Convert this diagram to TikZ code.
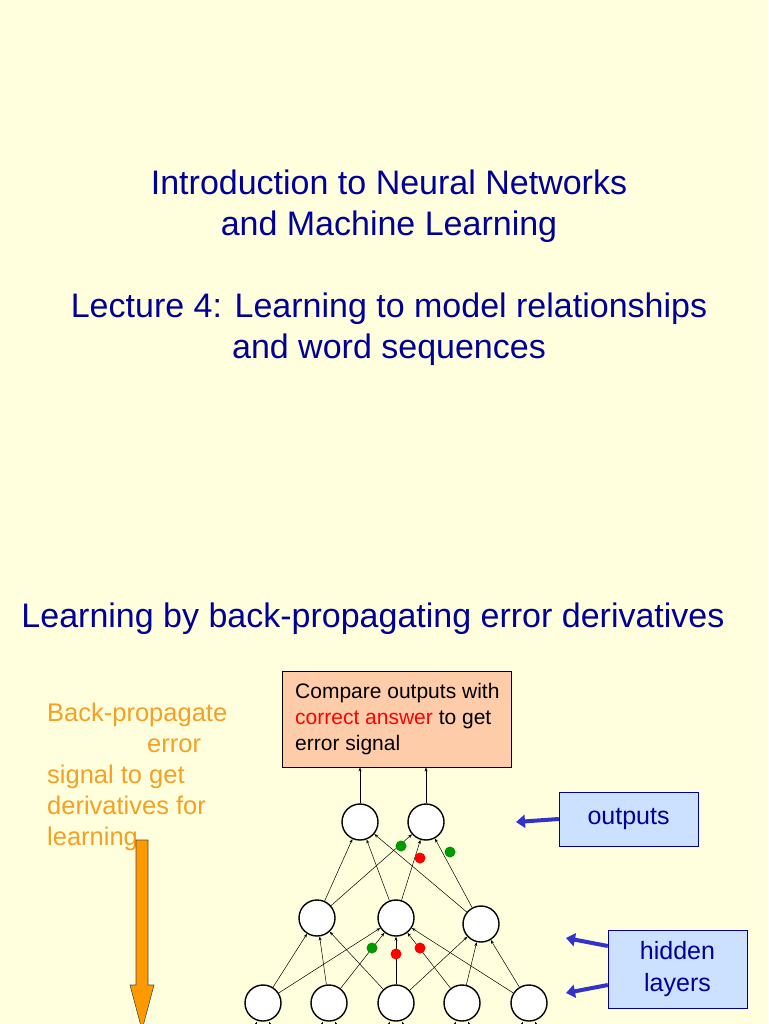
\documentclass[tikz,border=0pt]{standalone}
\usepackage{fontspec}
\setmainfont{Liberation Sans}
\usetikzlibrary{arrows.meta}
\definecolor{bg}{HTML}{FFFFDD}
\definecolor{navy}{HTML}{000099}
\definecolor{orng}{HTML}{F5A023}
\definecolor{salmon}{HTML}{FFCCAA}
\definecolor{lblue}{HTML}{CCE0FF}
\definecolor{bluearr}{HTML}{3333CC}
\definecolor{gdot}{HTML}{009900}
\definecolor{oarrow}{HTML}{FF9900}
\tikzset{
 neuron/.style={circle,draw,line width=1.4pt,fill=white,minimum size=36pt,inner sep=0pt},
 conn/.style={-{Stealth[length=4pt,width=3pt]},line width=0.5pt},
 dot/.style={circle,fill=#1,minimum size=11pt,inner sep=0pt},
 lab/.style={draw=navy,fill=lblue,text=navy,font=\fontsize{25}{32}\selectfont,align=center,inner sep=0pt},
 barrow/.style={-{Triangle[length=9pt,width=13pt]},line width=4pt,bluearr}
}
\begin{document}
\begin{tikzpicture}[x=1pt,y=-1pt]
\fill[bg] (0,0) rectangle (768,1024);
\useasboundingbox (0,0) rectangle (768,1024);
\node[text=navy,font=\fontsize{34}{41}\selectfont,align=center] (title) at (389,268)
 {Introduction to Neural Networks\\and Machine Learning\\[41pt]Lecture 4: Learning to model relationships\\and word sequences};
\node[text=navy,font=\fontsize{34}{40}\selectfont] (head) at (373,619) {Learning by back-propagating error derivatives};
\node[draw,fill=salmon,minimum width=229pt,minimum height=96pt,anchor=north west,inner sep=0pt] (cmp) at (282,671) {};
\node[anchor=north west,font=\fontsize{21}{26}\selectfont,align=left,inner sep=0pt] (cmpt) at (295,683)
 {Compare outputs with\\\textcolor{red}{correct answer} to get\\error signal};
\node[text=orng,font=\fontsize{25.5}{31}\selectfont,align=left,anchor=north west,inner sep=0pt] (bp) at (47,703)
 {Back-propagate\\\hspace*{100pt}error\\signal to get\\derivatives for\\learning};
% orange arrow
\filldraw[fill=oarrow,draw=black!70,line width=0.6pt] (136,840) -- (148,840) -- (148,985) -- (154,985) -- (142,1030) -- (130,985) -- (136,985) -- cycle;
% neurons
\node[neuron] (o1) at (360,822) {};
\node[neuron] (o2) at (426,822) {};
\node[neuron] (h1) at (317,918) {};
\node[neuron] (h2) at (396,918) {};
\node[neuron] (h3) at (481,924) {};
\node[neuron] (i1) at (263,1003) {};
\node[neuron] (i2) at (329,1003) {};
\node[neuron] (i3) at (396,1003) {};
\node[neuron] (i4) at (462,1003) {};
\node[neuron] (i5) at (529,1003) {};
\foreach \h in {h1,h2,h3}{\foreach \o in {o1,o2}{\draw[conn] (\h) -- (\o);}}
\foreach \i/\h in {i1/h1,i1/h2,i2/h1,i2/h2,i3/h1,i3/h2,i3/h3,i4/h2,i4/h3,i5/h2,i5/h3}{\draw[conn] (\i) -- (\h);}
\draw[conn] (o1) -- (o1.north |- cmp.south);
\draw[conn] (o2) -- (o2.north |- cmp.south);
\foreach \n in {i1,i2,i3,i4,i5}{
 \coordinate (\n bl) at ([xshift=-12pt,yshift=-14pt]\n.south);
 \coordinate (\n br) at ([xshift=12pt,yshift=-14pt]\n.south);
 \draw[conn] (\n bl) -- ([xshift=-6pt]\n.south);
 \draw[conn] (\n br) -- ([xshift=6pt]\n.south);}
\node[dot=gdot] (d1) at (401,846) {};
\node[dot=red] (d2) at (420,858) {};
\node[dot=gdot] (d3) at (450,852) {};
\node[dot=gdot] (d4) at (372,948) {};
\node[dot=red] (d5) at (396,954) {};
\node[dot=red] (d6) at (420,948) {};
% labels
\node[lab,minimum width=139pt,minimum height=54pt] (out) at (628.5,819) {outputs};
\node[lab,minimum width=139pt,minimum height=78pt] (hid) at (677.5,969) {hidden\\layers};
\draw[barrow] (out.west) -- (516,822);
\draw[barrow] ([yshift=23pt]hid.west) -- (566,938);
\draw[barrow] ([yshift=-16pt]hid.west) -- (566,993);
\end{tikzpicture}
\end{document}
